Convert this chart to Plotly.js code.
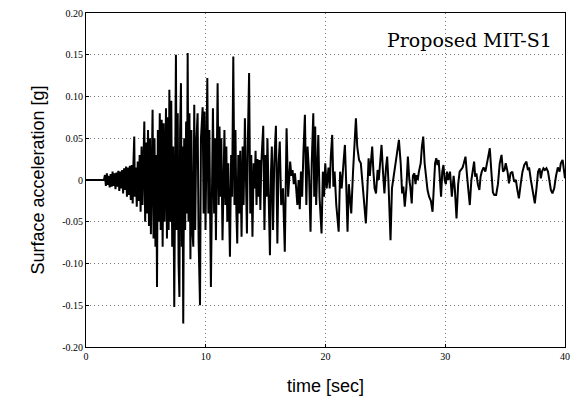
<!DOCTYPE html>
<html>
<head>
<meta charset="utf-8">
<script src="https://cdn.plot.ly/plotly-3.0.1.min.js"></script>
<style>html,body{margin:0;padding:0;background:#fff}#chart{width:572px;height:413px}</style>
</head>
<body>
<div id="chart"></div>
<script>
// [time (sec), surface acceleration (g)] read from the record
const quietPhase = [[0,0],[1.5,0]];
const onsetPhase = [
[1.58,0.006],[1.66,-0.007],[1.74,0.008],[1.82,-0.006],[1.90,0.005],[1.98,-0.009],[2.06,0.007],[2.14,-0.008],
[2.22,0.010],[2.30,-0.007],[2.38,0.008],[2.46,-0.011],[2.54,0.009],[2.62,-0.008],[2.70,0.011],[2.78,-0.013],
[2.86,0.010],[2.94,-0.010],[3.02,0.012],[3.10,-0.016],[3.18,0.014],[3.26,-0.012],[3.34,0.016],[3.42,-0.020],
[3.50,0.015],[3.58,-0.018],[3.66,0.017],[3.74,-0.024],[3.82,0.018],[3.90,-0.028],[3.96,0.020]];
const strongPhase = [
[4.03,0.052],[4.08,-0.020],[4.16,0.015],[4.24,-0.032],[4.32,0.022],[4.40,-0.025],[4.48,0.030],[4.56,-0.038],
[4.64,0.040],[4.72,-0.030],[4.80,0.055],[4.87,0.070],[4.94,-0.050],[5.02,0.045],[5.10,-0.040],[5.18,0.060],
[5.26,-0.055],[5.34,0.050],[5.42,-0.065],[5.50,0.075],[5.56,0.084],[5.64,-0.070],[5.72,0.050],[5.80,-0.080],
[5.87,0.030],[5.93,-0.128],[6.00,0.060],[6.08,-0.050],[6.16,0.080],[6.24,-0.060],[6.32,0.072],[6.40,-0.080],
[6.48,0.068],[6.56,-0.050],[6.62,0.060],[6.68,0.086],[6.76,-0.070],[6.84,0.075],[6.90,-0.060],[6.96,0.108],
[7.04,-0.050],[7.12,0.095],[7.20,-0.080],[7.28,0.040],[7.37,-0.152],[7.44,0.060],[7.51,0.150],[7.58,-0.060],
[7.66,0.080],[7.73,-0.100],[7.80,-0.140],[7.86,0.060],[7.93,0.116],[8.00,-0.080],[8.06,0.040],[8.12,-0.172],
[8.20,0.050],[8.28,-0.060],[8.36,0.070],[8.43,-0.040],[8.49,0.152],[8.56,-0.050],[8.64,0.080],[8.72,-0.095],
[8.80,0.060],[8.88,-0.060],[8.96,-0.080],[9.04,0.090],[9.12,-0.060],[9.20,0.040],[9.32,0.080],[9.40,-0.070],
[9.52,-0.150],[9.60,0.050],[9.74,0.087],[9.82,-0.040],[9.90,0.082],[9.98,-0.060],[10.05,0.040],[10.13,0.122],
[10.22,-0.040],[10.30,0.060],[10.43,-0.128],[10.52,0.040],[10.60,0.086],[10.70,-0.040],[10.78,0.050],[10.85,-0.072],
[10.92,0.030],[10.99,0.116],[11.08,-0.030],[11.15,0.064],[11.22,-0.020],[11.30,0.050],[11.40,-0.072],[11.48,0.030],
[11.56,0.060],[11.64,-0.030],[11.72,0.040],[11.80,-0.050],[11.88,0.020],[12.02,-0.092],[12.12,0.030],[12.20,-0.020],
[12.30,0.148],[12.40,-0.030],[12.48,0.060],[12.56,-0.040],[12.63,-0.076],[12.72,0.030],[12.80,-0.040],[12.88,0.035],
[12.99,-0.068],[13.08,0.040],[13.16,-0.030],[13.27,0.074],[13.36,-0.040],[13.44,-0.064],[13.52,0.050],[13.62,0.128],
[13.72,-0.040],[13.80,0.030],[13.90,-0.068],[14.00,0.020],[14.08,-0.010],[14.16,0.035],[14.24,-0.030],[14.32,0.025],
[14.40,-0.020],[14.48,0.024],[14.56,-0.036],[14.64,0.020],[14.80,0.065],[14.90,-0.060],[15.00,0.030],[15.08,-0.020],
[15.15,0.050],[15.36,-0.090],[15.45,0.010],[15.52,0.040],[15.62,-0.060],[15.72,0.020],[15.86,0.065],[15.98,-0.076],
[16.08,0.020],[16.18,0.046],[16.30,-0.030],[16.45,-0.010],[16.60,-0.086],[16.75,0.062],[16.88,-0.020],[16.96,0.010],
[17.05,0.022],[17.15,0.005],[17.25,0.012],[17.35,-0.005],[17.45,0.008],[17.55,-0.010],[17.65,-0.030],[17.75,0.000],
[17.85,-0.035],[17.95,0.010],[18.05,-0.020],[18.15,0.030],[18.28,0.078],[18.40,-0.030],[18.50,0.040],[18.62,0.010],
[18.75,-0.062],[18.85,0.020],[18.98,0.080]];
const codaPhase = [
[19.06,-0.020],[19.14,0.064],[19.22,-0.030],[19.30,0.010],[19.40,0.054],[19.50,-0.020],[19.67,-0.064],[19.78,0.010],
[19.88,-0.020],[19.98,0.020],[20.10,-0.010],[20.25,0.015],[20.35,-0.010],[20.45,0.030],[20.56,0.054],[20.66,-0.008],
[20.76,0.010],[20.90,-0.030],[21.10,-0.062],[21.22,0.010],[21.35,-0.010],[21.50,0.020],[21.62,0.042],[21.72,0.000],
[21.84,-0.062],[21.95,-0.005],[22.05,-0.020],[22.15,-0.040],[22.30,0.010],[22.54,0.074],[22.65,0.040],[22.80,0.024],
[22.95,0.020],[23.10,-0.010],[23.25,-0.030],[23.37,-0.052],[23.50,-0.010],[23.60,0.026],[23.70,0.005],[23.80,0.020],
[23.90,0.040],[24.00,0.010],[24.10,-0.010],[24.22,-0.016],[24.35,0.012],[24.45,0.000],[24.55,0.020],[24.68,0.042],
[24.80,0.010],[24.92,-0.016],[25.05,0.015],[25.15,0.028],[25.25,0.000],[25.43,-0.072],[25.55,-0.010],[25.65,0.000],
[25.75,0.004],[25.90,0.020],[26.00,0.030],[26.13,0.048],[26.28,0.020],[26.40,-0.016],[26.50,-0.008],[26.62,-0.032],
[26.75,-0.010],[26.88,0.028],[27.00,0.000],[27.08,-0.008],[27.20,-0.028],[27.30,0.005],[27.42,0.008],[27.52,-0.005],
[27.60,0.006],[27.70,0.000],[27.80,0.010],[27.95,0.020],[28.05,0.040],[28.16,0.052],[28.28,0.020],[28.40,0.000],
[28.52,-0.012],[28.65,-0.020],[28.80,-0.025],[28.94,-0.038],[29.05,-0.010],[29.15,0.020],[29.25,0.026],[29.35,0.018],
[29.45,0.024],[29.55,-0.005],[29.65,-0.020],[29.75,0.010],[29.85,0.018],[29.95,0.000],[30.05,-0.005],[30.15,0.010],
[30.25,0.000],[30.40,0.010],[30.55,-0.020],[30.70,0.005],[30.80,-0.010],[30.94,-0.046],[31.08,-0.005],[31.20,0.010],
[31.30,0.012],[31.45,0.015],[31.55,0.020],[31.69,0.028],[31.82,0.005],[31.95,-0.020],[32.05,-0.030],[32.18,0.000],
[32.30,0.010],[32.41,0.022],[32.50,0.004],[32.60,0.008],[32.72,-0.005],[32.85,-0.012],[32.95,0.004],[33.05,0.010],
[33.20,0.015],[33.35,0.010],[33.55,0.025],[33.72,0.038],[33.85,0.010],[33.98,-0.015],[34.10,-0.018],[34.25,-0.018],
[34.40,-0.005],[34.55,0.020],[34.70,0.030],[34.82,0.010],[34.95,0.012],[35.05,0.020],[35.20,0.010],[35.32,-0.004],
[35.45,0.008],[35.60,0.010],[35.75,-0.002],[35.90,0.000],[36.00,-0.010],[36.15,-0.022],[36.30,-0.005],[36.45,0.010],
[36.60,0.018],[36.78,0.022],[36.90,0.012],[37.00,0.015],[37.15,0.000],[37.30,-0.015],[37.48,-0.028],[37.62,-0.010],
[37.75,0.010],[37.88,0.014],[37.98,0.002],[38.08,0.010],[38.20,0.014],[38.32,0.012],[38.45,0.014],[38.58,0.010],
[38.70,0.000],[38.82,-0.012],[38.95,-0.016],[39.10,-0.010],[39.25,0.005],[39.40,0.015],[39.55,0.010],[39.65,0.020],
[39.80,0.024],[39.90,0.010],[40.00,0.002]];

const yTickVals = [-0.20,-0.15,-0.10,-0.05,0,0.05,0.10,0.15,0.20];
const yTickText = ["-0.20","-0.15","-0.10","-0.05","0","0.05","0.10","0.15","0.20"];
const xTickVals = [0,10,20,30,40];

const record = quietPhase.concat(onsetPhase, strongPhase, codaPhase);
const trace = {
  x: record.map(p => p[0]),
  y: record.map(p => p[1]),
  type: 'scatter', mode: 'lines',
  line: {color: '#000', width: 2},
  hoverinfo: 'skip'
};

const axisCommon = {
  showline: true, linecolor: '#000', linewidth: 1, mirror: true,
  showgrid: true, gridcolor: '#777', griddash: '1px,3px', gridwidth: 1,
  zeroline: false, ticks: 'inside', ticklen: 3, tickcolor: '#000',
  tickfont: {family: 'Liberation Serif, serif', size: 10, color: '#000'}
};

const layout = {
  width: 572, height: 413,
  margin: {l: 86, r: 7, t: 13, b: 66},
  paper_bgcolor: '#fff', plot_bgcolor: '#fff',
  showlegend: false,
  xaxis: Object.assign({}, axisCommon, {
    range: [0, 40], tickvals: xTickVals, ticktext: xTickVals.map(String),
    title: {text: 'time [sec]', font: {family: 'Liberation Sans, sans-serif', size: 18, color: '#000'}, standoff: 18}
  }),
  yaxis: Object.assign({}, axisCommon, {
    range: [-0.20, 0.20], tickvals: yTickVals, ticktext: yTickText,
    title: {text: 'Surface acceleration [g]', font: {family: 'Liberation Sans, sans-serif', size: 18, color: '#000'}, standoff: 12}
  }),
  annotations: [{
    text: 'Proposed MIT-S1', xref: 'paper', yref: 'paper', x: 0.978, y: 0.92,
    xanchor: 'right', yanchor: 'middle', showarrow: false,
    font: {family: 'DejaVu Serif, serif', size: 19, color: '#000'}
  }]
};

Plotly.newPlot('chart', [trace], layout, {displayModeBar: false, staticPlot: true});
</script>
</body>
</html>
